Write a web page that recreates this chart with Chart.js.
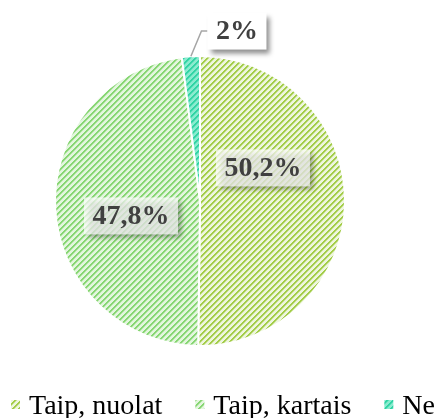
<!DOCTYPE html>
<html>
<head>
<meta charset="utf-8">
<script src="https://cdn.jsdelivr.net/npm/chart.js@4"></script>
<style>
    html, body { margin: 0; padding: 0; background: #fff; overflow: hidden; }
    #wrap { width: 437px; height: 418px; position: relative; }
</style>
</head>
<body>
<div id="wrap"><canvas id="chart"></canvas></div>
<script>
const labels = ['Taip, nuolat', 'Taip, kartais', 'Ne'];
const values = [50.2, 47.8, 2];
const lineColors = ['#a3cd48', '#86d672', '#30d4a4'];
const midColors = ['#c9e296', '#b6e6a8', '#5cdfb9'];
const backColors = ['#eef6de', '#e3f6de', '#8aebcf'];

const canvas = document.getElementById('chart');
const mainCtx = canvas.getContext('2d');

// diagonal "/" hatch, 6px tile
function makeHatch(line, mid, back) {
    const c = document.createElement('canvas');
    c.width = 6;
    c.height = 6;
    const ctx = c.getContext('2d');
    ctx.fillStyle = back;
    ctx.fillRect(0, 0, 6, 6);
    for (let y = 0; y < 6; y++) {
        for (let x = 0; x < 6; x++) {
            const d = (x + y) % 6;
            if (d === 0 || d === 1) {
                ctx.fillStyle = line;
                ctx.fillRect(x, y, 1, 1);
            } else if (d === 2) {
                ctx.fillStyle = mid;
                ctx.fillRect(x, y, 1, 1);
            }
        }
    }
    return mainCtx.createPattern(c, 'repeat');
}

const fills = lineColors.map((c, i) => makeHatch(c, midColors[i], backColors[i]));

function fmt(v) {
    return String(v).replace('.', ',') + '%';
}

// label box centres, relative to pie centre in radius units
const labelSpots = [[0.434, -0.228], [-0.476, 0.103], [0.255, -1.172]];

const valueLabels = {
    id: 'valueLabels',
    afterDatasetsDraw(chart) {
        const ctx = chart.ctx;
        const arcs = chart.getDatasetMeta(0).data;
        const cx = arcs[0].x, cy = arcs[0].y, r = arcs[0].outerRadius;
        ctx.save();
        ctx.font = 'bold 28px "Liberation Serif", "Times New Roman", serif';
        ctx.textAlign = 'center';
        ctx.textBaseline = 'middle';
        values.forEach((v, i) => {
            const text = fmt(v);
            const tx = cx + labelSpots[i][0] * r;
            const ty = cy + labelSpots[i][1] * r;
            const w = ctx.measureText(text).width + 17;
            const h = 37;
            const bx = tx - w / 2, by = ty - h / 2;

            if (i === 2) {
                const a = (arcs[i].startAngle + arcs[i].endAngle) / 2;
                ctx.strokeStyle = '#a6a6a6';
                ctx.lineWidth = 1.5;
                ctx.beginPath();
                ctx.moveTo(cx + Math.cos(a) * r, cy + Math.sin(a) * r);
                ctx.lineTo(bx - 6, ty);
                ctx.lineTo(bx, ty);
                ctx.stroke();
            }

            ctx.save();
            ctx.shadowColor = 'rgba(0,0,0,0.45)';
            ctx.shadowBlur = 5;
            ctx.shadowOffsetX = 4;
            ctx.shadowOffsetY = 4;
            ctx.fillStyle = i === 2 ? '#ffffff' : 'rgba(255,255,255,0.7)';
            ctx.fillRect(bx, by, w, h);
            ctx.restore();

            ctx.fillStyle = '#404040';
            ctx.fillText(text, tx, ty + 1);
        });
        ctx.restore();
    }
};

const bottomLegend = {
    id: 'bottomLegend',
    afterDraw(chart) {
        const ctx = chart.ctx;
        ctx.save();
        ctx.font = '28px "Liberation Serif", "Times New Roman", serif';
        ctx.textBaseline = 'alphabetic';
        ctx.textAlign = 'left';
        let x = 11;
        const baseY = 414;
        labels.forEach((lab, i) => {
            ctx.fillStyle = fills[i];
            ctx.fillRect(x, 400, 9, 9);
            ctx.fillStyle = '#000';
            ctx.fillText(lab, x + 18, baseY);
            x += 18 + ctx.measureText(lab).width + 33;
        });
        ctx.restore();
    }
};

new Chart(canvas, {
    type: 'pie',
    data: {
        labels: labels,
        datasets: [{
            data: values,
            backgroundColor: fills,
            borderColor: '#ffffff',
            borderWidth: 2
        }]
    },
    options: {
        responsive: true,
        maintainAspectRatio: false,
        animation: false,
        layout: { padding: { left: 54, right: 91, top: 55, bottom: 71 } },
        plugins: {
            legend: { display: false },
            tooltip: { enabled: false }
        }
    },
    plugins: [valueLabels, bottomLegend]
});
</script>
</body>
</html>
